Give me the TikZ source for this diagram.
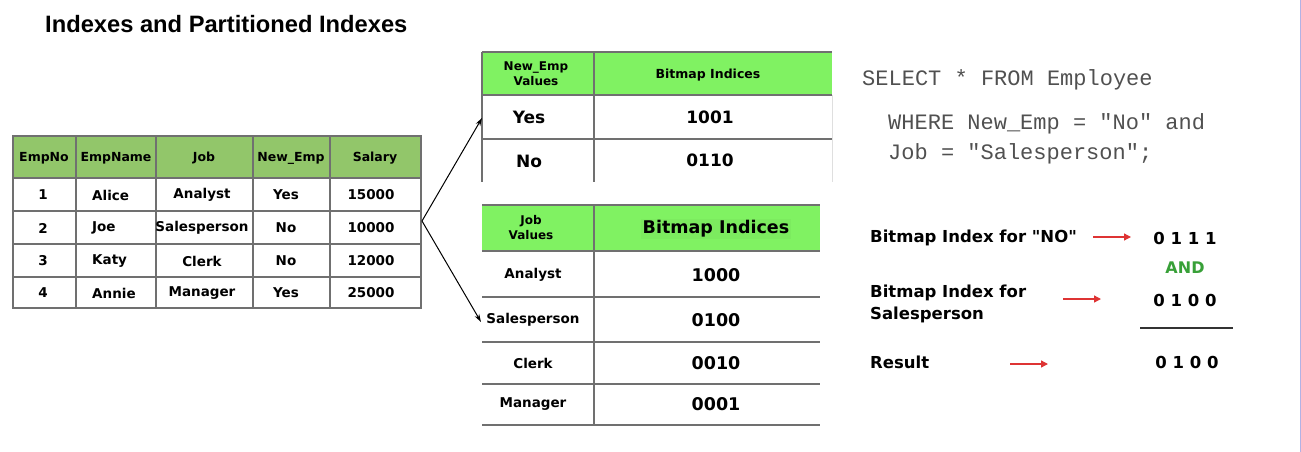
\documentclass[tikz,border=0pt]{standalone}
\usepackage{fontspec}
\setmainfont{DejaVu Sans}[Ligatures=TeXOff]
\newfontfamily\titlefont{Liberation Sans}
\setmonofont{Liberation Mono}
\usetikzlibrary{arrows.meta}
\definecolor{hdrgreen}{RGB}{146,198,106}
\definecolor{bitgreen}{RGB}{128,242,98}
\definecolor{gridgray}{RGB}{112,112,112}
\definecolor{sqlgray}{RGB}{80,80,80}
\definecolor{arrowred}{RGB}{222,52,52}
\definecolor{andgreen}{RGB}{56,160,56}
\tikzset{
  hcell/.style={font=\bfseries\fontsize{12.5}{14}\selectfont,align=center},
  cell/.style={font=\bfseries\fontsize{13.5}{15}\selectfont},
  bigcell/.style={font=\bfseries\fontsize{17}{19}\selectfont},
  gridline/.style={draw=gridgray,line width=1.4pt},
  sqltext/.style={font=\ttfamily\fontsize{22}{24}\selectfont,text=sqlgray,anchor=west,inner sep=0pt},
  calctext/.style={font=\bfseries\fontsize{16.5}{22}\selectfont,anchor=west,align=left,inner sep=0pt},
  redarrow/.style={-{Triangle[length=7pt,width=7pt]},draw=arrowred,line width=1.3pt}
}
\begin{document}
\begin{tikzpicture}[x=1pt,y=-1pt]
\useasboundingbox (0,0) rectangle (1301,452);
\draw[gray!50!blue!40,line width=1pt] (1300,0) -- (1300,452);
\node[anchor=base west,inner sep=0pt,font=\titlefont\bfseries\fontsize{23.7}{26}\selectfont] (title) at (45,33) {Indexes and Partitioned Indexes};
% employee table
\fill[hdrgreen] (13,136) rectangle (421,178);
\draw[gridline] (13,136) rectangle (421,308);
\foreach \y in {178,211,244,277} \draw[gridline] (13,\y) -- (421,\y);
\foreach \x in {76,156,253,330} \draw[gridline] (\x,136) -- (\x,308);
\foreach \x/\t [count=\i] in {44/EmpNo,116/EmpName,204/Job,291/New\_Emp,375/Salary}
  \node[hcell] (head\i) at (\x,158) {\t};
\foreach \n/\y/\name/\job/\new/\sal in {1/195/Alice/Analyst/Yes/15000,2/228/Joe/Salesperson/No/10000,3/261/Katy/Clerk/No/12000,4/293/Annie/Manager/Yes/25000}{
  \node[cell] (no\n) at (43,\y) {\n};
  \node[cell,anchor=west,inner sep=0pt] (name\n) at (92,\y) {\name};
  \node[cell] (job\n) at (202,\y) {\job};
  \node[cell] (new\n) at (286,\y) {\new};
  \node[cell] (sal\n) at (371,\y) {\sal};
}
% new_emp bitmap
\fill[bitgreen] (482,52) rectangle (832,95);
\foreach \y in {52,95,139} \draw[gridline] (482,\y) -- (832,\y);
\draw[gridline] (482,52) -- (482,182);
\draw[gridline] (594,52) -- (594,182);
\draw[gray!25,line width=1pt] (832,95) -- (832,182);
\node[hcell,font=\bfseries\fontsize{12}{15}\selectfont] (newhead) at (536,74) {New\_Emp\\Values};
\node[hcell] (newbits) at (708,75) {Bitmap Indices};
\node[bigcell] (yes) at (529,117) {Yes};
\node[bigcell] (yesbits) at (710,117) {1001};
\node[bigcell] (no) at (529,161) {No};
\node[bigcell] (nobits) at (710,160) {0110};
% job bitmap
\fill[bitgreen] (482,205) rectangle (820,251);
\foreach \y in {205,251,297,342,384,425} \draw[gridline] (482,\y) -- (820,\y);
\draw[gridline] (594,205) -- (594,425);
\node[hcell,font=\bfseries\fontsize{12}{15}\selectfont] (jobhead) at (531,228) {Job\\Values};
\node[bigcell,font=\bfseries\fontsize{17.5}{19}\selectfont,fill=bitgreen!97!black,inner sep=1.5pt] (jobbits) at (716,229) {Bitmap Indices};
\foreach \t/\b/\y [count=\i] in {Analyst/1000/275,Salesperson/0100/320,Clerk/0010/363,Manager/0001/404}{
  \node[cell] (jv\i) at (533,\y) {\t};
  \node[bigcell,font=\bfseries\fontsize{17.5}{19}\selectfont] (jb\i) at (716,\y) {\b};
}
% arrows from the table
\coordinate (fork) at (422,221);
\coordinate (toyes) at (482,118);
\coordinate (tosales) at (481,322);
\draw[-{Stealth[length=8pt,width=5pt]},line width=1pt] (fork) -- (toyes);
\draw[-{Stealth[length=8pt,width=5pt]},line width=1pt] (fork) -- (tosales);
% query
\node[sqltext] (select) at (862,80) {SELECT * FROM Employee};
\node[sqltext] (where) at (888,124) {WHERE New\_Emp = "No" and};
\node[sqltext] (jobeq) at (888,154) {Job = "Salesperson";};
% bitwise and
\node[calctext] (noidx) at (870,238) {Bitmap Index for "NO"};
\node[calctext] (salesidx) at (870,304) {Bitmap Index for\\Salesperson};
\node[calctext] (result) at (870,362) {Result};
\node[calctext,anchor=center] (bits1) at (1185,238) {0 1 1 1};
\node[calctext,anchor=center,text=andgreen,font=\bfseries\fontsize{16}{19}\selectfont] (andop) at (1185,268) {AND};
\node[calctext,anchor=center] (bits2) at (1185,300) {0 1 0 0};
\node[calctext,anchor=center] (bits3) at (1187,362) {0 1 0 0};
\coordinate (sumL) at (1140,328);
\coordinate (sumR) at (1233,328);
\draw[black!80,line width=1.8pt] (sumL) -- (sumR);
\coordinate (a1) at (1093,237); \coordinate (b1) at (1131,237);
\coordinate (a2) at (1063,299); \coordinate (b2) at (1101,299);
\coordinate (a3) at (1010,364); \coordinate (b3) at (1048,364);
\draw[redarrow] (a1) -- (b1);
\draw[redarrow] (a2) -- (b2);
\draw[redarrow] (a3) -- (b3);
\end{tikzpicture}
\end{document}
